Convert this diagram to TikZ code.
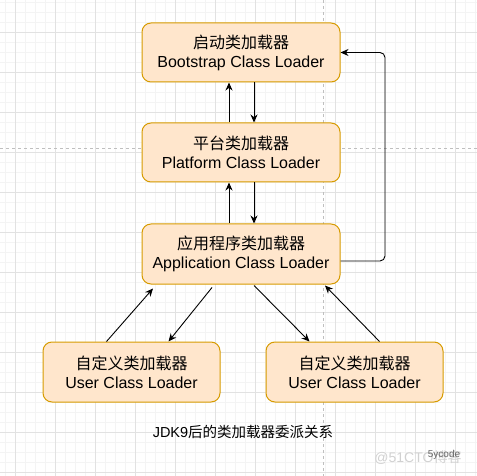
\documentclass[tikz,border=0pt]{standalone}
\usepackage{fontspec}
\setmainfont{Liberation Sans}
\newfontfamily\cjk{Noto Sans CJK SC}
\usetikzlibrary{arrows.meta,calc}
\definecolor{boxfill}{HTML}{FFE6CC}
\definecolor{boxline}{HTML}{D79B00}
\definecolor{gridmajor}{HTML}{E2E2E2}
\definecolor{gridminor}{HTML}{F4F4F4}

\begin{document}
\begin{tikzpicture}[x=1pt,y=-1pt,
		box/.style={draw=boxline,fill=boxfill,line width=1pt,rounded corners=9pt,
			minimum width=198pt,minimum height=59pt,align=center,
			font=\fontsize{16}{19}\selectfont},
		ubox/.style={box,minimum width=177pt},
		arr/.style={-{Stealth[length=8pt,width=7pt]},line width=0.9pt}]
		\useasboundingbox (0,0) rectangle (477,476);
		% background grid
		\foreach \x in {5,15,...,475}
			\draw[gridminor,line width=0.6pt] (\x,0) -- (\x,476);
		\foreach \y in {2,12,...,472}
			\draw[gridminor,line width=0.6pt] (0,\y) -- (477,\y);
		\foreach \x in {15,55,...,455}
			\draw[gridmajor,line width=0.8pt] (\x,0) -- (\x,476);
		\foreach \y in {32,72,...,472}
			\draw[gridmajor,line width=0.8pt] (0,\y) -- (477,\y);
		\draw[black!25,dashed,line width=0.6pt] (0,148) -- (477,148);
		\draw[black!25,dashed,line width=0.6pt] (323,0) -- (323,476);

		\node[box] (boot) at (241,52.5) {{\cjk 启动类加载器}\\Bootstrap Class Loader};
		\node[box] (plat) at (241,152.5) {{\cjk 平台类加载器}\\Platform Class Loader};
		\node[box,minimum height=60pt] (app) at (241,254) {{\cjk 应用程序类加载器}\\Application Class Loader};
		\node[ubox,minimum height=60pt] (user1) at (131.5,372) {{\cjk 自定义类加载器}\\User Class Loader};
		\node[ubox,minimum height=60pt] (user2) at (354.5,372) {{\cjk 自定义类加载器}\\User Class Loader};

		\foreach \a/\b in {plat/boot,app/plat}{
			\draw[arr] ([xshift=-12pt]\a.north) -- ([xshift=-12pt]\b.south);
			\draw[arr] ([xshift=13pt]\b.south) -- ([xshift=13pt]\a.north);
		}
		\coordinate (loop) at (385,0);
		\draw[arr,rounded corners=5pt] ([yshift=-7pt]app.east) -| (loop |- boot.east) -- (boot.east);

		\draw[arr] ([xshift=-25pt]user1.north) -- ([xshift=-88pt,yshift=-4pt]app.south);
		\draw[arr] ([xshift=-29pt,yshift=-3pt]app.south) -- ([xshift=37pt]user1.north);
		\draw[arr] ([xshift=13pt,yshift=-1pt]app.south) -- ([xshift=-45pt]user2.north);
		\draw[arr] ([xshift=25pt]user2.north) -- ([xshift=84pt,yshift=-1pt]app.south);

		\node[font=\fontsize{14.5}{17}\selectfont] (cap) at (243,432) {JDK9{\cjk 后的类加载器委派关系}};
		\node[black!18,font=\fontsize{14}{16}\selectfont] (wm) at (418,458) {@51CTO{\cjk 博客}};
		\node[black!60,font=\fontsize{10}{12}\selectfont] (wm2) at (444,455) {5ycode};
	\end{tikzpicture}
\end{document}
